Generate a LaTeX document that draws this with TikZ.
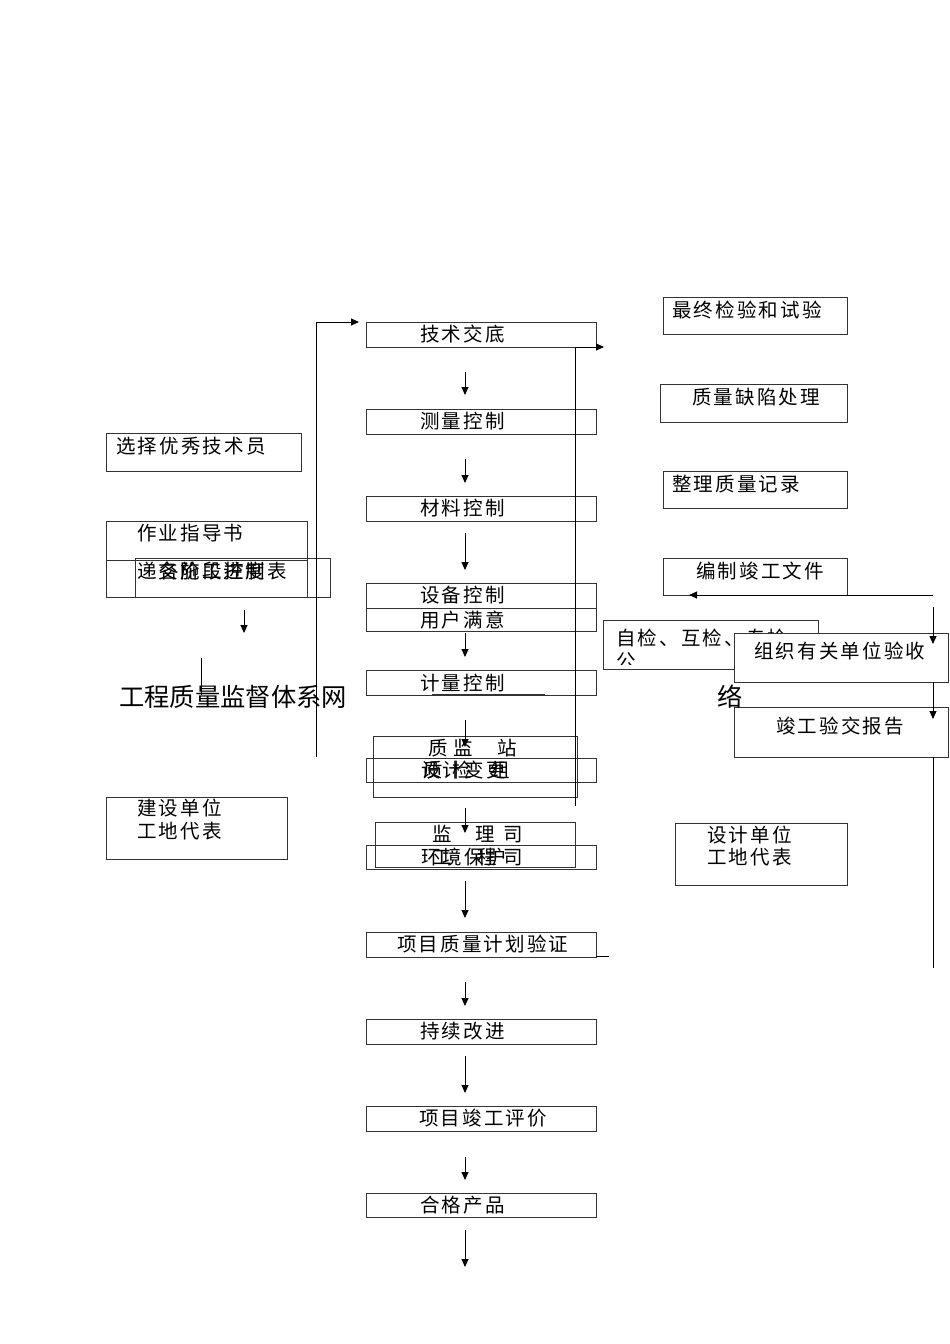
\documentclass[tikz,border=0pt]{standalone}
\usepackage{fontspec}
\setmainfont{Liberation Sans}
\newfontfamily\cjk{Noto Sans CJK SC}
\newfontfamily\cjksp[LetterSpace=11]{Noto Sans CJK SC}
\usetikzlibrary{arrows.meta}
\tikzset{
  bx/.style={draw=black!80, line width=0.8pt, inner sep=0pt, anchor=north west},
  tx/.style={anchor=west, inner sep=0pt, font=\cjksp\fontsize{19.5}{20}\selectfont},
  txn/.style={anchor=west, inner sep=0pt, font=\cjk\fontsize{19.5}{20}\selectfont},
  arr/.style={line width=0.9pt, -{Triangle[length=8pt,width=7pt]}},
  ln/.style={line width=0.9pt},
}
\newcommand\mybox[5]{\node[bx, minimum width=#4-#2, minimum height=#5-#3] (#1) at (#2,#3) {};}
\newcommand\myarrow[4]{\coordinate (#1s) at (#2,#3); \coordinate (#1e) at (#2,#4); \draw[arr] (#1s) -- (#1e);}
\begin{document}
\begin{tikzpicture}[x=1pt,y=-1pt]
\useasboundingbox (0,0) rectangle (950,1344);
% ---------- centre column ----------
\mybox{b1}{366}{322}{596}{347}
\node[tx] (t1) at (420,334) {技术交底};
\mybox{b2}{366}{409}{596}{434}
\node[tx] (t2) at (420,421) {测量控制};
\mybox{b3}{366}{496}{596}{521}
\node[tx] (t3) at (420,508) {材料控制};
\mybox{b4}{366}{583}{596}{608}
\node[tx] (t4) at (420,595) {设备控制};
\mybox{b5}{366}{608}{596}{631}
\node[tx] (t5) at (420,620) {用户满意};
\mybox{b6}{366}{670}{596}{695}
\node[tx] (t6) at (420,683) {计量控制};
\coordinate (ul1) at (432,694.5); \coordinate (ul2) at (545,694.5);
\draw[line width=1.6pt, black!80] (ul1) -- (ul2);
\mybox{b7}{366}{758}{596}{782}
\mybox{b7b}{373}{736}{577}{797}
\node[txn] (t7a) at (428,748) {质\hspace{5.5pt}监\hspace{24.5pt}站};
\node[tx] (t7) at (421,770) {设计变更};
\node[txn] (t7c) at (423,770) {质\hspace{9.5pt}检\hspace{18.5pt}组};
\mybox{b8}{366}{845}{596}{869}
\mybox{b8b}{375}{822}{575}{867}
\node[txn] (t8a) at (432,834) {监\hspace{23.5pt}理\hspace{8.5pt}司};
\node[tx] (t8) at (421,857) {环境保护};
\node[txn] (t8c) at (432,857) {工\hspace{25.5pt}程\hspace{6.5pt}司};
\mybox{b9}{366}{932}{596}{957}
\node[tx] (t9) at (397,944) {项目质量计划验证};
\coordinate (s9a) at (596,956); \coordinate (s9b) at (609,956);
\draw[ln] (s9a) -- (s9b);
\mybox{b10}{366}{1019}{596}{1044}
\node[tx] (t10) at (420,1031) {持续改进};
\mybox{b11}{366}{1106}{596}{1131}
\node[tx] (t11) at (419,1118) {项目竣工评价};
\mybox{b12}{366}{1193}{596}{1217}
\node[tx] (t12) at (420,1205) {合格产品};
% centre arrows
\myarrow{a1}{465}{372}{395}
\myarrow{a2}{465}{459}{483}
\myarrow{a3}{465}{533}{570}
\myarrow{a4}{465}{633}{657}
\myarrow{a5}{465}{720}{747}
\myarrow{a6}{465}{808}{833}
\myarrow{a7}{465}{881}{918}
\myarrow{a8}{465}{982}{1006}
\myarrow{a9}{465}{1056}{1093}
\myarrow{a10}{465}{1157}{1180}
\myarrow{a11}{465}{1230}{1267}
% ---------- left column ----------
\mybox{l1}{106}{433}{301}{471}
\node[tx] (lt1) at (116,446) {选择优秀技术员};
\mybox{l2}{106}{521}{307}{560}
\node[tx] (lt2) at (137,533) {作业指导书};
\mybox{l3}{106}{560}{307}{597}
\mybox{l3b}{135}{558}{330}{597}
\node[tx] (lt3) at (137,571) {递交施工进度表};
\node[tx] (lt3b) at (159,571) {各阶段控制};
\myarrow{la}{244}{610}{633}
\coordinate (lv1) at (201,658); \coordinate (lv2) at (201,695);
\draw[ln] (lv1) -- (lv2);
\mybox{l4}{106}{797}{287}{859}
\node[tx] (lt4a) at (137,808) {建设单位};
\node[tx] (lt4b) at (137,831) {工地代表};
% left bracket
\coordinate (lb1) at (316,757); \coordinate (lb2) at (316,322); \coordinate (lb3) at (359,322);
\draw[arr] (lb1) -- (lb2) -- (lb3);
% right bracket
\coordinate (rb1) at (575,806); \coordinate (rb2) at (575,347); \coordinate (rb3) at (604,347);
\draw[arr] (rb1) -- (rb2) -- (rb3);
% title
\node[anchor=west, inner sep=0pt, font=\cjk\fontsize{25.3}{26}\selectfont] (title) at (119,697) {工程质量监督体系网};
% ---------- right column ----------
\mybox{r1}{663}{297}{847}{334}
\node[tx] (rt1) at (672,310) {最终检验和试验};
\mybox{r2}{660}{384}{847}{422}
\node[tx] (rt2) at (692,397) {质量缺陷处理};
\mybox{r3}{663}{471}{847}{508}
\node[tx] (rt3) at (672,484) {整理质量记录};
\mybox{r4}{663}{558}{847}{595}
\node[tx] (rt4) at (696,571) {编制竣工文件};
\mybox{r5}{603}{620}{818}{669}
\node[tx] (rt5) at (616,638) {自检、互检、专检};
\begin{scope}
\clip (603,620) rectangle (818,664);
\node[tx] (rt5b) at (616,661) {公};
\end{scope}
\node[bx, fill=white, minimum width=214, minimum height=49] (r6) at (734,633) {};
\node[tx] (rt6) at (754,651) {组织有关单位验收};
\mybox{r7}{734}{707}{948}{757}
\node[tx] (rt7) at (776,726) {竣工验交报告};
\node[anchor=west, inner sep=0pt, font=\cjk\fontsize{25.3}{26}\selectfont] (title2) at (717,697) {络};
\mybox{r8}{675}{823}{847}{885}
\node[tx] (rt8a) at (707,835) {设计单位};
\node[tx] (rt8b) at (707,857) {工地代表};
% right-hand connectors
\coordinate (rc1) at (933,595); \coordinate (rc2) at (689,595);
\draw[arr] (rc1) -- (rc2);
\myarrow{rd1}{933}{607}{644}
\myarrow{rd2}{933}{682}{719}
\coordinate (rl1) at (933,757); \coordinate (rl2) at (933,968);
\draw[ln] (rl1) -- (rl2);
\end{tikzpicture}
\end{document}
